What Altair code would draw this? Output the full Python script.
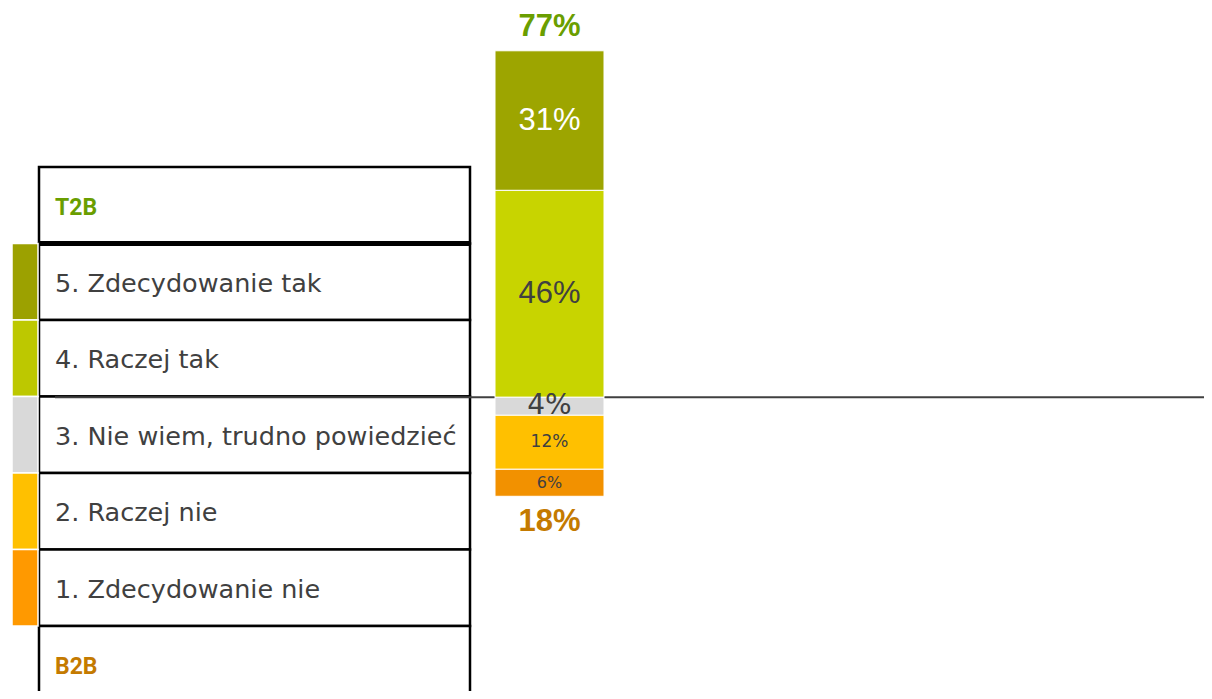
import altair as alt
import pandas as pd

# ---- data ----
categories = [
    "5. Zdecydowanie tak",
    "4. Raczej tak",
    "3. Nie wiem, trudno powiedzieć",
    "2. Raczej nie",
    "1. Zdecydowanie nie",
]
values = [31, 46, 4, 12, 6]
bar_colors = ["#9da500", "#c8d400", "#d9d9d9", "#ffc000", "#f29100"]
strip_colors = ["#9ca100", "#bdc800", "#d9d9d9", "#ffc000", "#ff9900"]
summary_labels = ["T2B", "B2B"]
summary_values = [77, 18]
summary_colors = ["#6a9e00", "#c47a00"]
table_rows = [summary_labels[0]] + categories + [summary_labels[1]]
question = "Q"

# ---- stacking of the diverging bar ----
seg = []
acc = 0
for i in [1, 0]:
    seg.append(dict(q=question, cat=categories[i], v=values[i], y0=acc, y1=acc + values[i]))
    acc += values[i]
top = acc
acc = 0
for i in [2, 3, 4]:
    seg.append(dict(q=question, cat=categories[i], v=values[i], y0=acc, y1=acc - values[i]))
    acc -= values[i]
bottom = acc
seg_df = pd.DataFrame(seg)
seg_df["mid"] = (seg_df["y0"] + seg_df["y1"]) / 2
seg_df["label"] = seg_df["v"].astype(str) + "%"

tot_df = pd.DataFrame({
    "q": [question, question],
    "row": summary_labels,
    "y": [top, bottom],
    "label": [f"{v}%" for v in summary_values],
})

W, H = 1196, 683
yscale = alt.Scale(domain=[-65.27, 86.51], nice=False, zero=False)
xscale = alt.Scale(range=[487, 596], paddingInner=0, paddingOuter=0)
rowscale = alt.Scale(domain=table_rows, range=[159, 159 + 7 * 76.5], paddingInner=0, paddingOuter=0)
colscale = alt.Scale(domain=categories, range=bar_colors)
stripscale = alt.Scale(domain=categories, range=strip_colors)

X = lambda: alt.X("q:N", scale=xscale, axis=None)

# ---- table ----
rows_df = pd.DataFrame({"row": table_rows})
table = alt.Chart(rows_df).mark_rect(fill="white", stroke="black", strokeWidth=2.5).encode(
    x=alt.value(31), x2=alt.value(462),
    y=alt.Y("row:N", scale=rowscale, axis=None),
)
thick = alt.Chart(pd.DataFrame({"row": [categories[0]]})).mark_rule(color="black", strokeWidth=5).encode(
    x=alt.value(31), x2=alt.value(462),
    y=alt.Y("row:N", scale=rowscale, axis=None, bandPosition=0),
)
strips = alt.Chart(pd.DataFrame({"row": categories})).mark_rect(stroke="white", strokeWidth=1.5).encode(
    x=alt.value(4), x2=alt.value(30),
    y=alt.Y("row:N", scale=rowscale, axis=None),
    color=alt.Color("row:N", scale=stripscale, legend=None),
)
row_text = alt.Chart(pd.DataFrame({"row": categories})).mark_text(
    align="left", baseline="middle", font="DejaVu Sans", fontSize=25.5, color="#404040", dy=2
).encode(
    x=alt.value(47),
    y=alt.Y("row:N", scale=rowscale, axis=None),
    text="row:N",
)
sum_text = alt.Chart(pd.DataFrame({"row": summary_labels})).mark_text(
    align="left", baseline="middle", font="Roboto", fontSize=23, fontWeight="bold", dy=3
).encode(
    x=alt.value(47),
    y=alt.Y("row:N", scale=rowscale, axis=None),
    text="row:N",
    color=alt.Color("row:N", scale=alt.Scale(domain=summary_labels, range=summary_colors), legend=None),
)

# ---- zero line ----
zero = alt.Chart(pd.DataFrame({"z": [0]})).mark_rule(color="#404040", strokeWidth=2).encode(
    x=alt.value(47), x2=alt.value(W),
    y=alt.Y("z:Q", scale=yscale, axis=None),
)

# ---- bar ----
bars = alt.Chart(seg_df).mark_bar(stroke="white", strokeWidth=1).encode(
    x=X(),
    y=alt.Y("y0:Q", scale=yscale, axis=None),
    y2="y1:Q",
    color=alt.Color("cat:N", scale=colscale, legend=None),
)

label_styles = {
    categories[0]: dict(font="Liberation Sans", fontSize=31, color="white"),
    categories[1]: dict(font="Liberation Sans", fontSize=31, color="#404040"),
    categories[2]: dict(font="DejaVu Sans", fontSize=28, color="#404040"),
    categories[3]: dict(font="DejaVu Sans", fontSize=17, color="#404040"),
    categories[4]: dict(font="DejaVu Sans", fontSize=16, color="#404040"),
}
seg_labels = []
for cat, st in label_styles.items():
    seg_labels.append(
        alt.Chart(seg_df).transform_filter(alt.datum.cat == cat).mark_text(
            align="center", baseline="middle", **st
        ).encode(
            x=X(),
            y=alt.Y("mid:Q", scale=yscale, axis=None),
            text="label:N",
        )
    )

tot_layers = []
for lab, col, dy in zip(summary_labels, summary_colors, [-24, 26]):
    tot_layers.append(
        alt.Chart(tot_df).transform_filter(alt.datum.row == lab).mark_text(
            align="center", baseline="middle", font="Liberation Sans", fontSize=31,
            fontWeight="bold", color=col, dy=dy
        ).encode(
            x=X(),
            y=alt.Y("y:Q", scale=yscale, axis=None),
            text="label:N",
        )
    )

chart = alt.layer(
    table, thick, strips, row_text, sum_text, zero, bars, *seg_labels, *tot_layers
).resolve_scale(
    x="independent", y="independent", color="independent"
).properties(
    width=W, height=H, padding=0, autosize=alt.AutoSizeParams(type="none"),
    background="white",
).configure_view(stroke=None)

chart.save("out.html", embed_options={"renderer": "svg", "actions": False})
